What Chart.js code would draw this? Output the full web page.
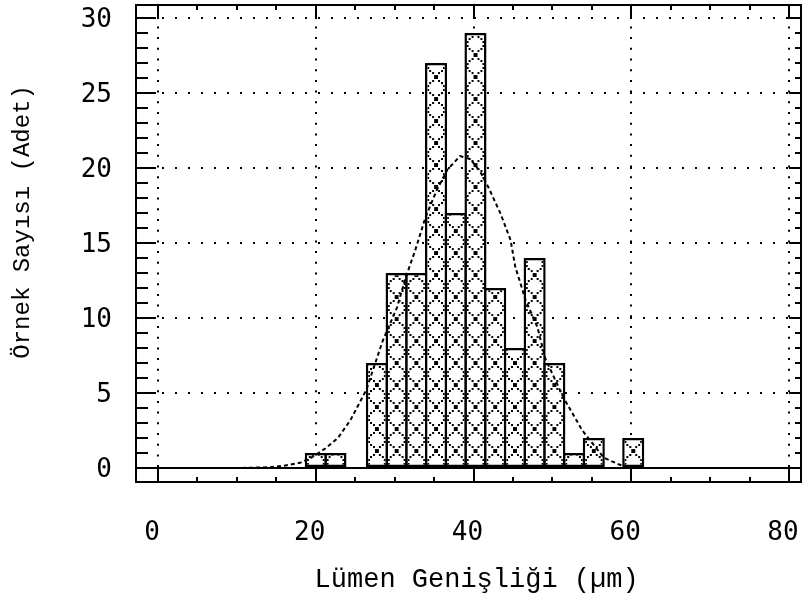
<!DOCTYPE html>
<html>
<head>
<meta charset="utf-8">
<script src="https://cdn.jsdelivr.net/npm/chart.js@4.4.0/dist/chart.umd.min.js"></script>
<style>
body{margin:0;background:#fff}
</style>
</head>
<body>
<canvas id="grafik" width="802" height="599"></canvas>
<script>
// histogram siniflari (orta noktalar) ve adetleri
const siniflar = [20, 22.5, 25, 27.75, 30.25, 32.75, 35.25, 37.75, 40.25, 42.75, 45.25, 47.75, 50.25, 52.75, 55.25, 57.75, 60.25];
const adetler = [1, 1, 0, 7, 13, 13, 27, 17, 29, 12, 8, 14, 7, 1, 2, 0, 2];

// dagilim egrisi
const egriX = [0, 10, 14, 16, 18, 19.3, 21.2, 22.8, 24.4, 26.4, 28.5, 30.3, 31.4, 32.6, 33.9, 35.4, 36.7, 38.3, 39.6, 40.9, 41.9, 43.4, 44.7, 45.3, 45.9, 46.6, 48.1, 49.1, 51.4, 53.8, 56.5, 58.3, 59.6, 62];
const egriY = [0, 0, 0.05, 0.15, 0.35, 0.65, 1.3, 2.0, 3.2, 5.2, 8.5, 10.7, 12.7, 14.5, 16.7, 18.6, 19.9, 20.8, 20.6, 19.7, 18.7, 17.0, 15.2, 13.4, 12.4, 11.2, 9.4, 7.3, 4.7, 2.5, 0.7, 0.27, 0, 0];

const xEtiketler = [0, 20, 40, 60, 80];
const yEtiketler = [0, 5, 10, 15, 20, 25, 30];
const sinifGenisligi = 2.5;

// capraz taramali desen
var desen = document.createElement('canvas');
desen.width = 20; desen.height = 22;
var g = desen.getContext('2d');
g.fillStyle = '#fff';
g.fillRect(0, 0, 20, 22);
g.fillStyle = '#000';
for (let i = 0; i <= 9; i++) {
  let t = i / 9;
  g.fillRect(Math.round(t * 20) - 1, Math.round(t * 22) - 1, 2, 2);
  g.fillRect(Math.round(20 - t * 20) - 1, Math.round(t * 22) - 1, 2, 2);
}

function tarama(ctx) {
  let ch = ctx.chart;
  let xs = ch.scales.x;
  if (!xs || ctx.type !== 'data') return '#fff';
  let orta = siniflar[ctx.dataIndex];
  let sol = xs.getPixelForValue(orta - sinifGenisligi / 2);
  let sag = xs.getPixelForValue(orta + sinifGenisligi / 2);
  let p = ch.ctx.createPattern(desen, 'repeat');
  p.setTransform(new DOMMatrix().translate(sol, 0).scale((sag - sol) / 20, 1));
  return p;
}

// cerceve, ic cizikler ve sifir cizgisi
const cerceve = {
  id: 'cerceve',
  afterDatasetsDraw(chart) {
    const {ctx, chartArea: a, scales: {x, y}} = chart;
    ctx.save();
    ctx.strokeStyle = '#000';
    ctx.lineWidth = 2;
    ctx.beginPath();
    let y0 = y.getPixelForValue(0);
    ctx.moveTo(a.left, y0); ctx.lineTo(a.right, y0);
    for (let v = 0; v <= 30; v++) {
      let py = Math.round(y.getPixelForValue(v));
      let uzun = v % 5 === 0;
      ctx.moveTo(a.left, py); ctx.lineTo(a.left + (uzun ? 20 : 12), py);
      ctx.moveTo(a.right, py); ctx.lineTo(a.right - (uzun ? 12 : 6), py);
    }
    for (let v = 0; v <= 80; v += 5) {
      let px = Math.round(x.getPixelForValue(v));
      let uzun = v % 20 === 0;
      ctx.moveTo(px, a.bottom); ctx.lineTo(px, uzun ? y0 : a.bottom - 5);
      ctx.moveTo(px, a.top); ctx.lineTo(px, a.top + (uzun ? 14 : 5));
    }
    ctx.stroke();
    ctx.strokeRect(a.left, a.top, a.right - a.left, a.bottom - a.top);
    ctx.restore();
  }
};

var myChart = new Chart(document.getElementById('grafik'), {
  data: {
    datasets: [{
      type: 'line',
      order: 0,
      data: egriX.map((v, i) => ({x: v, y: egriY[i]})),
      borderColor: '#000',
      borderWidth: 2,
      borderDash: [4, 3],
      pointRadius: 0,
      tension: 0
    }, {
      type: 'bar',
      order: 1,
      data: siniflar.map((v, i) => ({x: v, y: adetler[i]})),
      backgroundColor: tarama,
      borderColor: '#000',
      borderWidth: 2.5,
      borderSkipped: false,
      barPercentage: 1.12,
      categoryPercentage: 1
    }]
  },
  options: {
    responsive: false,
    animation: false,
    devicePixelRatio: 1,
    layout: {padding: {top: 5, right: 1, left: 0, bottom: 0}},
    plugins: {legend: {display: false}, tooltip: {enabled: false}},
    scales: {
      x: {
        type: 'linear',
        offset: false,
        min: -2.79,
        max: 81.52,
        afterFit: s => { s.height = 117; s.paddingLeft = 0; s.paddingRight = 0 },
        afterBuildTicks: s => { s.ticks = xEtiketler.map(v => ({value: v})) },
        grid: {color: '#000', lineWidth: 2, drawTicks: false, offset: false},
        border: {display: false, dash: [2, 8.7]},
        ticks: {
          color: '#000',
          padding: 36,
          labelOffset: -6,
          maxRotation: 0,
          font: {family: 'DejaVu Sans Mono', size: 26}
        },
        title: {
          display: true,
          text: ' Lümen Genişliği (µm)',
          color: '#000',
          padding: {top: 0, bottom: 3},
          font: {family: 'Liberation Mono', size: 27}
        }
      },
      y: {
        type: 'linear',
        min: -0.93,
        max: 30.87,
        afterFit: s => { s.width = 136; s.paddingTop = 0; s.paddingBottom = 0 },
        afterBuildTicks: s => { s.ticks = yEtiketler.map(v => ({value: v})) },
        grid: {
          color: c => (c.tick && c.tick.value === 0) ? 'rgba(0,0,0,0)' : '#000',
          lineWidth: 2,
          drawTicks: false
        },
        border: {display: false, dash: [2, 11]},
        ticks: {
          color: '#000',
          padding: 24,
          labelOffset: 2,
          font: {family: 'DejaVu Sans Mono', size: 26}
        },
        title: {
          display: true,
          text: '   Örnek Sayısı (Adet)',
          color: '#000',
          padding: {top: 8, bottom: 0},
          font: {family: 'Liberation Mono', size: 24}
        }
      }
    }
  },
  plugins: [cerceve]
});
</script>
</body>
</html>
